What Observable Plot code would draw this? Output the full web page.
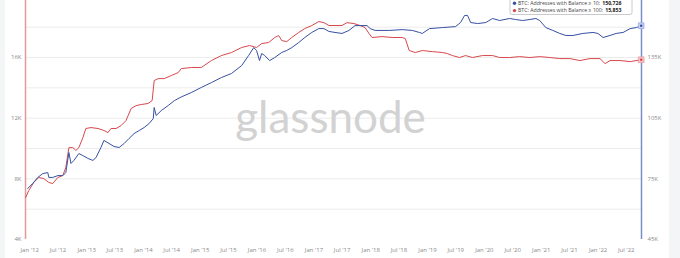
<!DOCTYPE html>
<html><head><meta charset="utf-8">
<script src="https://cdn.jsdelivr.net/npm/d3@7"></script>
<script src="https://cdn.jsdelivr.net/npm/@observablehq/plot@0.6"></script>
<style>
html,body{margin:0;padding:0}
body{background:#f4f5f7;width:680px;height:258px;overflow:hidden;position:relative;font-family:"Open Sans",Arial,sans-serif}
#chart{position:absolute;left:5px;top:0;width:664px;height:258px;background:#fff}
</style></head><body><div id="chart"></div>
<script>
// BTC: Addresses with Balance ≥ 100 (left axis, thousands)
const redDates = ["2011-12-06","2011-12-26","2012-01-27","2012-02-28","2012-03-31","2012-05-03","2012-05-28","2012-06-30","2012-08-01","2012-08-20","2012-09-09","2012-10-04","2012-10-24","2012-11-12","2012-12-08","2012-12-27","2013-01-29","2013-03-15","2013-04-22","2013-05-18","2013-06-07","2013-07-09","2013-08-10","2013-09-11","2013-10-14","2013-11-15","2013-12-17","2014-01-31","2014-02-26","2014-03-11","2014-04-06","2014-05-15","2014-06-29","2014-08-13","2014-09-01","2014-11-05","2015-01-08","2015-03-14","2015-05-17","2015-07-21","2015-09-24","2015-11-14","2015-12-29","2016-01-31","2016-03-16","2016-04-24","2016-05-19","2016-06-08","2016-07-10","2016-08-11","2016-09-25","2016-11-03","2016-12-18","2017-02-01","2017-03-06","2017-04-07","2017-05-16","2017-06-30","2017-08-01","2017-09-15","2017-10-24","2017-11-25","2017-12-21","2018-01-09","2018-03-15","2018-05-19","2018-07-22","2018-08-11","2018-09-05","2018-10-14","2018-11-28","2019-02-01","2019-04-06","2019-05-08","2019-06-10","2019-07-25","2019-09-02","2019-10-17","2019-12-20","2020-02-23","2020-04-08","2020-06-11","2020-08-15","2020-10-19","2020-12-22","2021-02-25","2021-04-30","2021-07-04","2021-09-06","2021-11-10","2022-01-13","2022-02-15","2022-03-19","2022-05-22","2022-07-26","2022-10-05"];
const redValues = [6.77,7.23,7.76,8.09,8.02,7.76,7.69,8.09,8.22,8.75,10.06,10.06,9.87,10.06,10.72,11.32,11.38,11.32,11.19,11.05,11.32,11.32,11.51,11.84,12.64,12.83,12.90,12.97,13.16,14.48,14.61,14.61,14.81,15.01,15.27,15.34,15.34,15.80,16.13,16.33,16.66,16.79,16.66,16.92,16.99,17.32,17.45,17.12,17.05,17.32,17.65,17.91,18.11,18.37,18.30,18.11,18.11,18.11,18.30,18.24,18.11,17.98,17.58,17.32,17.38,17.32,17.32,17.25,16.46,16.33,16.46,16.39,16.33,16.26,16.13,16.00,16.13,16.00,16.13,16.13,16.00,16.00,16.06,16.00,16.06,16.00,15.93,15.93,15.80,15.93,15.93,15.60,15.80,15.80,15.73,15.853];

// BTC: Addresses with Balance ≥ 10 (right axis, thousands)
const blueDates = ["2011-12-19","2012-01-20","2012-02-22","2012-03-25","2012-04-26","2012-05-03","2012-05-28","2012-06-30","2012-08-01","2012-08-20","2012-09-09","2012-09-22","2012-10-11","2012-11-12","2012-12-08","2013-01-09","2013-02-10","2013-03-02","2013-04-03","2013-04-22","2013-05-25","2013-06-26","2013-07-29","2013-08-30","2013-10-01","2013-11-02","2013-12-05","2014-01-06","2014-02-07","2014-03-05","2014-03-11","2014-03-24","2014-04-26","2014-06-10","2014-07-19","2014-09-01","2014-11-05","2015-01-08","2015-03-14","2015-05-17","2015-07-21","2015-09-24","2015-11-08","2015-12-11","2015-12-29","2016-01-17","2016-01-31","2016-02-19","2016-03-22","2016-04-24","2016-06-08","2016-07-10","2016-08-11","2016-09-25","2016-11-03","2016-12-18","2017-02-01","2017-03-06","2017-04-07","2017-05-16","2017-06-30","2017-08-14","2017-09-22","2017-11-06","2017-12-08","2017-12-28","2018-01-29","2018-04-30","2018-07-22","2018-09-25","2018-11-09","2018-11-28","2019-01-13","2019-04-06","2019-06-30","2019-08-01","2019-08-27","2019-09-15","2019-10-05","2019-11-19","2020-01-10","2020-02-23","2020-04-08","2020-06-11","2020-07-20","2020-09-03","2020-10-19","2020-11-27","2020-12-22","2021-01-30","2021-03-16","2021-04-30","2021-06-08","2021-07-23","2021-09-25","2021-11-29","2021-12-31","2022-02-02","2022-03-19","2022-04-27","2022-06-11","2022-07-26","2022-09-03","2022-10-05"];
const blueValues = [70.2,72.7,75.7,77.6,78.1,75.7,75.7,76.6,76.6,78.1,88.0,82.6,84.1,87.5,86.5,85.1,84.1,85.5,90.5,94.0,92.5,91.0,90.5,92.5,95.0,97.4,98.9,100.4,102.4,104.8,110.3,106.3,108.8,111.3,113.7,115.5,117.7,120.2,122.6,125.1,127.1,131.0,136.0,139.9,138.5,133.5,137.0,136.0,133.5,135.0,137.5,138.5,139.9,142.4,144.9,147.4,149.3,149.3,147.9,147.4,146.9,148.4,150.8,150.8,150.8,149.3,148.4,148.4,148.8,148.4,147.4,146.9,149.3,149.8,150.3,152.3,155.8,155.8,152.3,151.8,152.3,154.3,153.3,154.3,153.8,153.3,153.8,154.3,153.3,149.8,148.4,146.9,145.9,145.9,146.9,147.4,146.9,144.9,145.9,146.9,147.4,149.3,149.8,150.726];

const xTickDates = ["2012-01-01","2012-07-01","2013-01-01","2013-07-01","2014-01-01","2014-07-01","2015-01-01","2015-07-01","2016-01-01","2016-07-01","2017-01-01","2017-07-01","2018-01-01","2018-07-01","2019-01-01","2019-07-01","2020-01-01","2020-07-01","2021-01-01","2021-07-01","2022-01-01","2022-07-01"];
const leftTicks = [4, 8, 12, 16];
const rightTicks = [45, 75, 105, 135];
const gridValues = [6, 8, 10, 12, 14, 16, 18];
const legendLabels = ["BTC: Addresses with Balance ≥ 10:", "BTC: Addresses with Balance ≥ 100:"];
const legendValues = ["150,726", "15,853"];

const RED = "#d9474d", BLUE = "#3650a3";
// right axis (≥10) mapped onto left-axis units: 45K↔4K, 30K per 4K
const toLeft = v => 4 + (v - 45) / 7.5;
const fromLeft = u => (u - 4) * 7.5 + 45;

const red = redDates.map((d, i) => ({date: new Date(d), v: redValues[i]}));
const blue = blueDates.map((d, i) => ({date: new Date(d), v: blueValues[i]}));
const x0 = new Date("2011-12-05"), x1 = new Date("2022-10-07");
const yTop = 19.76;

const plot = Plot.plot({
  width: 664, height: 258,
  marginLeft: 20, marginRight: 28, marginTop: 0, marginBottom: 19,
  style: {background: "transparent", color: "#8a8a8a", fontSize: "6px", fontFamily: "'Open Sans', Arial, sans-serif"},
  x: {type: "utc", domain: [x0, x1], label: null},
  y: {domain: [4, yTop], label: null},
  marks: [
    Plot.ruleY(gridValues, {stroke: "#ececec", strokeWidth: 1}),
    Plot.text(["glassnode"], {frameAnchor: "middle", dx: -3, dy: -1, fontSize: 44, fill: "#d2d2d2", fontFamily: "Lato, 'Open Sans', sans-serif", fontWeight: 400}),
    Plot.axisX({ticks: xTickDates.map(d => new Date(d)), tickFormat: d3.utcFormat("%b '%y"), tickSize: 0, tickPadding: 8, fontSize: 6, label: null}),
    Plot.axisY({anchor: "left", ticks: leftTicks, tickFormat: d => d + "K", tickSize: 0, tickPadding: 4, fontSize: 6, label: null}),
    Plot.axisY({anchor: "right", ticks: rightTicks.map(toLeft), tickFormat: d => Math.round(fromLeft(d)) + "K", tickSize: 0, tickPadding: 6, fontSize: 6, label: null}),
    Plot.ruleX([x0], {y1: 4, y2: yTop, stroke: "#e09a9a", strokeWidth: 1.5}),
    Plot.ruleX([x1], {y1: 4, y2: yTop, stroke: "#7b8cc8", strokeWidth: 1.5}),
    Plot.lineY(red, {x: "date", y: "v", stroke: RED, strokeWidth: 1}),
    Plot.lineY(blue, {x: "date", y: d => toLeft(d.v), stroke: BLUE, strokeWidth: 1}),
    Plot.dot(blue.slice(-1), {x: "date", y: d => toLeft(d.v), symbol: "square", r: 3.2, fill: "#c6d0f0", stroke: "#9aabe0", strokeWidth: 0.8}),
    Plot.dot(red.slice(-1), {x: "date", y: "v", symbol: "square", r: 3.2, fill: "#f4c4c8", stroke: "#e89aa0", strokeWidth: 0.8}),
    Plot.dot(blue.slice(-1), {x: "date", y: d => toLeft(d.v), r: 1.2, fill: BLUE}),
    Plot.dot(red.slice(-1), {x: "date", y: "v", r: 1.2, fill: RED})
  ]
});
document.getElementById("chart").appendChild(plot);

// legend box (tooltip-style) at top right
const svg = d3.select(plot);
const g = svg.append("g").attr("font-family", "'Open Sans', Arial, sans-serif").attr("text-anchor", "start");
g.append("rect").attr("x", 505).attr("y", -3).attr("width", 122).attr("height", 17.5).attr("rx", 2)
  .attr("fill", "#fff").attr("stroke", "#bdbdbd").attr("stroke-width", 0.8);
[BLUE, RED].forEach((c, i) => {
  const y = 3.2 + i * 7.4;
  g.append("circle").attr("cx", 509.5).attr("cy", y).attr("r", 1.7).attr("fill", c);
  const t = g.append("text").attr("x", 513).attr("y", y).attr("dy", "0.35em").attr("font-size", 5.2).attr("fill", "#444").attr("text-anchor", "start").text(legendLabels[i]);
  const w = t.node().getComputedTextLength();
  g.append("text").attr("x", 513 + w + 2).attr("y", y).attr("dy", "0.35em").attr("font-size", 5.2).attr("font-weight", "bold").attr("fill", "#222").attr("text-anchor", "start").text(legendValues[i]);
});
</script>
</body></html>
